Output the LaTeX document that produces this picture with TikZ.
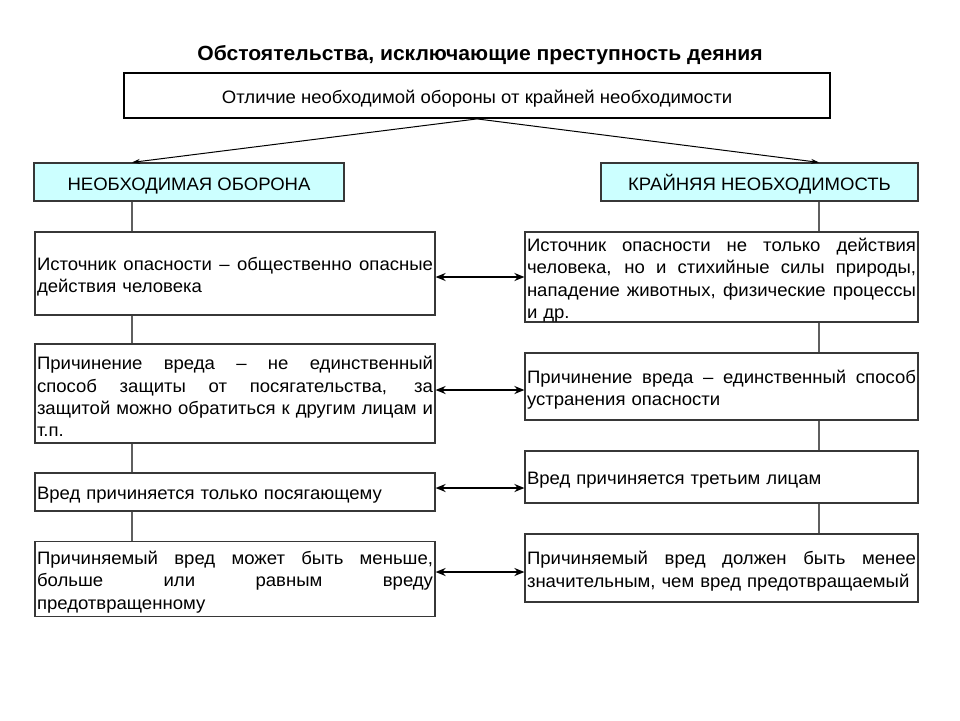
\documentclass[tikz,border=0pt]{standalone}
\usepackage{fontspec}
\setmainfont[FakeStretch=1.03]{Liberation Sans}
\usetikzlibrary{arrows.meta,calc}
\definecolor{boxc}{RGB}{55,55,55}
\definecolor{linec}{RGB}{95,95,95}
\definecolor{headfill}{RGB}{204,255,255}
\newcommand\fl[2][396pt]{\noindent\hbox to #1{\spaceskip=0.28em plus 3em minus 0.1em\relax #2}}
\begin{document}
\begin{tikzpicture}[x=1pt,y=-1pt,
  box/.style={draw=boxc, line width=1.2pt, rectangle, inner xsep=2pt, inner ysep=0pt,
    align=left, font=\fontsize{18}{22.3}\selectfont, anchor=center,
    execute at begin node={\rule{0pt}{19.5pt}}},
  lbox/.style={box, text width=396pt},
  rbox/.style={box, text width=389pt},
  head/.style={draw=boxc, line width=1.2pt, fill=headfill, rectangle, inner sep=0pt,
    font=\fontsize{18}{22.3}\selectfont, anchor=center, text height=16pt, text depth=0pt},
  topbox/.style={draw=black, line width=1.8pt, rectangle, inner sep=0pt,
    font=\fontsize{18}{22.3}\selectfont, anchor=center, text height=16pt, text depth=0pt},
  vline/.style={draw=linec, line width=1.3pt},
  dbl/.style={draw=black, line width=2.4pt, {Stealth[length=10pt,width=8pt]}-{Stealth[length=10pt,width=8pt]}},
  branch/.style={draw=black, line width=1pt, -{Stealth[length=8pt,width=5pt]}}
]
\useasboundingbox (0,0) rectangle (960,720);

\node[font=\bfseries\fontsize{20.5}{24}\selectfont, anchor=base] (title) at (480,60) {Обстоятельства, исключающие преступность деяния};

\node[topbox, minimum width=706pt, minimum height=45pt] (T) at (477,95.5) {Отличие необходимой обороны от крайней необходимости};

\node[head, minimum width=310pt, minimum height=38pt] (LH) at (189,182) {НЕОБХОДИМАЯ ОБОРОНА};
\node[head, minimum width=317pt, minimum height=38pt] (RH) at (759.5,182) {КРАЙНЯЯ НЕОБХОДИМОСТЬ};

\node[lbox, minimum height=83pt] (L1) at (235,273.5) {\fl{Источник опасности – общественно опасные}\\действия человека};
\node[lbox, minimum height=99pt] (L2) at (235,393.5) {\fl{Причинение вреда – не единственный}\\\fl{способ защиты от посягательства, за}\\\fl{защитой можно обратиться к другим лицам и}\\т.п.};
\node[lbox, minimum height=38pt] (L3) at (235,492) {Вред причиняется только посягающему};
\node[lbox, minimum height=75pt] (L4) at (235,579) {\fl{Причиняемый вред может быть меньше,}\\\fl{больше или равным вреду}\\предотвращенному};

\node[rbox, minimum height=90pt] (R1) at (721.5,277) {\fl[389pt]{Источник опасности не только действия}\\\fl[389pt]{человека, но и стихийные силы природы,}\\\fl[389pt]{нападение животных, физические процессы}\\и др.};
\node[rbox, minimum height=67pt] (R2) at (721.5,386.5) {\fl[389pt]{Причинение вреда – единственный способ}\\устранения опасности};
\node[rbox, minimum height=52pt] (R3) at (721.5,477) {Вред причиняется третьим лицам};
\node[rbox, minimum height=68pt] (R4) at (721.5,568) {\fl[389pt]{Причиняемый вред должен быть менее}\\значительным, чем вред предотвращаемый};

\coordinate (lx) at (132,0);
\coordinate (rx) at (819,0);
\coordinate (a1) at (0,277);
\coordinate (a2) at (0,390);
\coordinate (a3) at (0,488);
\coordinate (a4) at (0,572);

\draw[branch] (T.south) -- (LH.north -| lx);
\draw[branch] (T.south) -- (RH.north -| rx);

\draw[vline] (LH.south -| lx) -- (L1.north -| lx);
\draw[vline] (L1.south -| lx) -- (L2.north -| lx);
\draw[vline] (L2.south -| lx) -- (L3.north -| lx);
\draw[vline] (L3.south -| lx) -- (L4.north -| lx);
\draw[vline] (RH.south -| rx) -- (R1.north -| rx);
\draw[vline] (R1.south -| rx) -- (R2.north -| rx);
\draw[vline] (R2.south -| rx) -- (R3.north -| rx);
\draw[vline] (R3.south -| rx) -- (R4.north -| rx);

\draw[dbl] (L1.east |- a1) -- (R1.west |- a1);
\draw[dbl] (L2.east |- a2) -- (R2.west |- a2);
\draw[dbl] (L3.east |- a3) -- (R3.west |- a3);
\draw[dbl] (L4.east |- a4) -- (R4.west |- a4);
\end{tikzpicture}
\end{document}
